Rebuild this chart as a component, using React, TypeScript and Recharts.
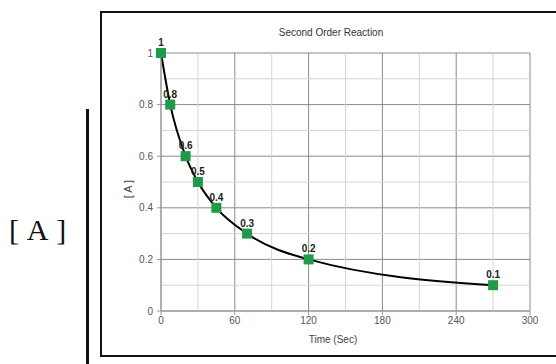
import React from 'react';
import { LineChart, Line, XAxis, YAxis, CartesianGrid, ReferenceLine, LabelList } from 'recharts';

const times = [0, 7.5, 20, 30, 45, 70, 120, 270];
const conc = [1, 0.8, 0.6, 0.5, 0.4, 0.3, 0.2, 0.1];
const xTicks = [0, 60, 120, 180, 240, 300];
const yTicks = [0, 0.2, 0.4, 0.6, 0.8, 1];
const xMinor = [30, 90, 150, 210, 270];
const yMinor = [0.1, 0.3, 0.5, 0.7, 0.9];

const data = times.map((t, i) => ({ t, a: conc[i] }));

const font = '"Liberation Sans", Arial, sans-serif';

const Square = (props: any) => {
  const { cx, cy } = props;
  if (cx == null || cy == null) return null;
  return <rect x={cx - 5} y={cy - 5} width={10} height={10} fill="#1f9a48" />;
};

export default function App() {
  return (
    <div style={{ position: 'absolute', left: 0, top: 0, width: 556, height: 364, overflow: 'hidden', background: '#fff', fontFamily: font }}>
      <div style={{ position: 'absolute', left: 9, top: 212, fontFamily: '"Liberation Serif", serif', fontSize: 30, lineHeight: '36px', color: '#111', whiteSpace: 'pre', wordSpacing: 2 }}>[ A ]</div>
      <div style={{ position: 'absolute', left: 86, top: 109, width: 2.5, height: 260, background: '#111' }} />
      <div style={{ position: 'absolute', left: 100, top: 11, width: 470, height: 346, border: '2px solid #111', boxSizing: 'border-box' }} />
      <div style={{ position: 'absolute', left: 231, top: 27, width: 200, textAlign: 'center', fontSize: 10, lineHeight: '12px', color: '#333' }}>Second Order Reaction</div>
      <div style={{ position: 'absolute', left: 283, top: 334, width: 100, textAlign: 'center', fontSize: 10, lineHeight: '12px', color: '#444' }}>Time (Sec)</div>
      <div style={{ position: 'absolute', left: 98, top: 183, width: 60, textAlign: 'center', fontSize: 11, lineHeight: '12px', color: '#444', transform: 'rotate(-90deg)' }}>[ A ]</div>
      <div style={{ position: 'absolute', left: 0, top: 0 }}>
        <LineChart width={556} height={364} data={data} margin={{ top: 53, right: 26, left: 100, bottom: 23 }}>
          <CartesianGrid stroke="#8a8a8a" strokeWidth={1} />
          {xMinor.map((v) => (
            <ReferenceLine key={'x' + v} x={v} stroke="#d4d4d4" strokeWidth={1} />
          ))}
          {yMinor.map((v) => (
            <ReferenceLine key={'y' + v} y={v} stroke="#d4d4d4" strokeWidth={1} />
          ))}
          <XAxis
            dataKey="t"
            type="number"
            domain={[0, 300]}
            ticks={xTicks}
            height={30}
            stroke="#999"
            tickSize={4}
            tickMargin={2}
            tick={{ fontSize: 10, fill: '#555', fontFamily: font }}
          />
          <YAxis
            type="number"
            domain={[0, 1]}
            ticks={yTicks}
            width={61}
            stroke="#999"
            tickSize={4}
            tickMargin={4}
            tick={{ fontSize: 10, fill: '#555', fontFamily: font }}
          />
          <Line dataKey="a" type="monotone" stroke="none" dot={<Square />} activeDot={false} isAnimationActive={false}>
            <LabelList dataKey="a" position="top" offset={7} style={{ fontSize: 10, fontWeight: 'bold', fill: '#222', fontFamily: font }} />
          </Line>
          <Line dataKey="a" type="monotone" stroke="#000" strokeWidth={2} dot={false} activeDot={false} isAnimationActive={false} />
        </LineChart>
      </div>
    </div>
  );
}
